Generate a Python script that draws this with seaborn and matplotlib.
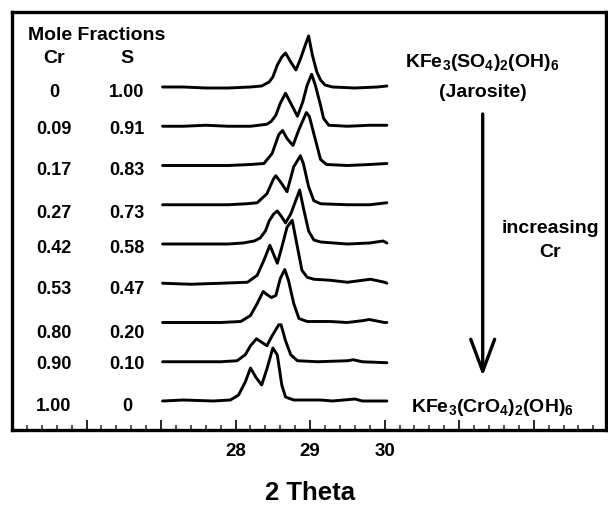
import matplotlib
matplotlib.use("Agg")
import matplotlib.pyplot as plt
from matplotlib.ticker import MultipleLocator, FixedLocator, FixedFormatter
import numpy as np
import seaborn as sns

# ---------------- data ----------------
cr_fraction = ["0", "0.09", "0.17", "0.27", "0.42", "0.53", "0.80", "0.90", "1.00"]
s_fraction = ["1.00", "0.91", "0.83", "0.73", "0.58", "0.47", "0.20", "0.10", "0"]

tt_cr000 = [27.02, 27.3, 27.6, 27.9, 28.2, 28.35, 28.45, 28.5, 28.56, 28.62, 28.67, 28.74, 28.81,
            28.87, 28.94, 28.98, 29.03, 29.09, 29.14, 29.2, 29.3, 29.6, 29.9, 30.03]
in_cr000 = [0, 0, -1, -1, 0, 1, 5, 10, 22, 30, 34, 25, 17, 28, 43, 51, 32, 15, 7, 2, 0, -1, 0, 1]

tt_cr009 = [27.02, 27.3, 27.6, 27.9, 28.2, 28.42, 28.48, 28.54, 28.6, 28.67, 28.74, 28.83, 28.9,
            28.96, 29.02, 29.07, 29.14, 29.18, 29.25, 29.5, 29.8, 30.03]
in_cr009 = [0, 0, 1, 0, 0, 2, 5, 11, 23, 33, 23, 10, 24, 41, 52, 41, 21, 8, 1, 0, 1, 1]

tt_cr017 = [27.02, 27.3, 27.6, 27.9, 28.2, 28.38, 28.49, 28.58, 28.63, 28.69, 28.77, 28.85, 28.95,
            28.99, 29.07, 29.14, 29.22, 29.5, 29.8, 30.03]
in_cr017 = [0, 0, 0, 0, 1, 2, 12, 31, 35, 27, 20, 36, 53, 49, 26, 6, 1, 0, 1, 2]

tt_cr027 = [27.02, 27.3, 27.6, 27.9, 28.15, 28.29, 28.42, 28.51, 28.54, 28.62, 28.69, 28.78, 28.87,
            28.91, 28.98, 29.05, 29.14, 29.5, 29.8, 30.03]
in_cr027 = [0, 0, 0, 0, 1, 2, 11, 26, 29, 21, 13, 38, 49, 41, 18, 4, 1, 0, 0, 2]

tt_cr042 = [27.02, 27.3, 27.6, 27.9, 28.1, 28.25, 28.33, 28.4, 28.45, 28.51, 28.56, 28.62, 28.67,
            28.74, 28.8, 28.86, 28.91, 28.98, 29.05, 29.14, 29.5, 29.8, 29.98, 30.03]
in_cr042 = [0, 0, 0, 0, 1, 3, 6, 13, 23, 30, 33, 27, 21, 30, 42, 54, 36, 13, 4, 2, 0, 1, 3, 1]

tt_cr053 = [27.02, 27.4, 27.8, 28.16, 28.29, 28.38, 28.46, 28.51, 28.56, 28.62, 28.69, 28.76, 28.83,
            28.89, 28.96, 29.05, 29.27, 29.5, 29.81, 30.0, 30.03]
in_cr053 = [0, -1, 0, 1, 8, 23, 38, 29, 20, 36, 56, 63, 36, 13, 6, 4, 3, 1, 4, 1, 0]

tt_cr080 = [27.02, 27.4, 27.8, 28.07, 28.2, 28.29, 28.37, 28.42, 28.48, 28.54, 28.6, 28.66, 28.71,
            28.78, 28.85, 28.96, 29.27, 29.5, 29.72, 29.79, 30.0, 30.03]
in_cr080 = [0, 0, 0, 1, 7, 19, 31, 28, 25, 27, 44, 53, 42, 19, 4, 1, 1, 0, 2, 3, 0, 0]

tt_cr090 = [27.02, 27.4, 27.8, 28.02, 28.13, 28.2, 28.28, 28.36, 28.42, 28.49, 28.58, 28.61, 28.67,
            28.74, 28.83, 29.1, 29.5, 29.58, 29.7, 30.03]
in_cr090 = [0, 0, 0, 1, 7, 16, 23, 19, 16, 26, 37, 37, 21, 7, 1, 0, 1, 2, 0, -1]

tt_cr100 = [27.02, 27.3, 27.7, 27.93, 28.04, 28.13, 28.2, 28.27, 28.35, 28.42, 28.5, 28.56, 28.62,
            28.67, 28.78, 28.95, 29.14, 29.3, 29.6, 29.7, 30.03]
in_cr100 = [0, 1, 0, 1, 6, 19, 33, 24, 16, 32, 53, 46, 16, 4, 1, 1, 1, 0, 2, 0, 0]

patterns_tt = [tt_cr000, tt_cr009, tt_cr017, tt_cr027, tt_cr042, tt_cr053, tt_cr080, tt_cr090, tt_cr100]
patterns_in = [in_cr000, in_cr009, in_cr017, in_cr027, in_cr042, in_cr053, in_cr080, in_cr090, in_cr100]

major_ticks = [25, 26, 27, 28, 29, 30, 31, 32]
labelled_ticks = [28, 29, 30]
x_label = "2 Theta"
top_formula = r"KFe$_3$(SO$_4$)$_2$(OH)$_6$"
top_name = "(Jarosite)"
bottom_formula = r"KFe$_3$(CrO$_4$)$_2$(OH)$_6$"

# ---------------- style ----------------
sns.set_theme(style="white")
plt.rcParams["font.family"] = ["Liberation Sans", "DejaVu Sans"]
plt.rcParams["font.weight"] = "bold"
plt.rcParams["xtick.labelsize"] = 13.5
plt.rcParams["mathtext.fontset"] = "custom"
plt.rcParams["mathtext.rm"] = "Liberation Sans:bold"
plt.rcParams["mathtext.it"] = "Liberation Sans:bold"
plt.rcParams["mathtext.bf"] = "Liberation Sans:bold"
plt.rcParams["mathtext.default"] = "rm"

W, H = 608, 506
fig = plt.figure(figsize=(W / 100, H / 100), dpi=100)
ax_left, ax_right, ax_top, ax_bottom = 12, 606, 12.7, 431
ax = fig.add_axes([ax_left / W, 1 - ax_bottom / H, (ax_right - ax_left) / W, (ax_bottom - ax_top) / H])
ax.set_facecolor("white")
ax.set_xlim(25.0, 32.97)
ax.set_ylim(0, ax_bottom - ax_top)

first_base = ax_bottom - 88
spacing = 39.25
for i, (tt, inten) in enumerate(zip(patterns_tt, patterns_in)):
    y = np.asarray(inten, dtype=float) + first_base - i * spacing
    sns.lineplot(x=tt, y=y, ax=ax, color="black", linewidth=2.1, sort=False, estimator=None)
    ax.lines[-1].set_solid_joinstyle("round")

for side in ["left", "right", "top", "bottom"]:
    ax.spines[side].set_visible(True)
    ax.spines[side].set_linewidth(2.4)
    ax.spines[side].set_color("black")

ax.xaxis.set_major_locator(FixedLocator(major_ticks))
ax.xaxis.set_major_formatter(FixedFormatter([str(t) if t in labelled_ticks else "" for t in major_ticks]))
ax.xaxis.set_minor_locator(MultipleLocator(0.2))
ax.tick_params(axis="x", which="major", direction="in", length=7.5, width=1.2, pad=9,
               labelsize=13.5, bottom=True, top=False, colors="black")
ax.tick_params(axis="x", which="minor", direction="in", length=3.4, width=1.1, bottom=True, top=False)
ax.set_yticks([])

ax.set_xlabel(x_label, fontsize=18.5, fontweight="bold", color="black")
ax.xaxis.set_label_coords((310 - ax_left) / (ax_right - ax_left), (ax_bottom - 493) / (ax_bottom - ax_top))
ax.xaxis.label.set_verticalalignment("center")


def ftext(x, y, s, **kw):
    fig.text(x / W, 1 - y / H, s, color="black", fontweight="bold", **kw)


ftext(96.5, 40, "Mole Fractions", fontsize=14, ha="center", va="baseline")
ftext(54, 63.3, "Cr", fontsize=14, ha="center", va="baseline")
ftext(127, 63.3, "S", fontsize=14, ha="center", va="baseline")

row_baseline_px = [97, 134, 175, 218, 253, 294, 338, 369, 411]
for yb, cr, s in zip(row_baseline_px, cr_fraction, s_fraction):
    ftext(54, yb, cr, fontsize=13, ha="center", va="baseline")
    ftext(127, yb, s, fontsize=13, ha="center", va="baseline")

ftext(482, 67, top_formula, fontsize=14, ha="center", va="baseline")
ftext(483, 97, top_name, fontsize=14, ha="center", va="baseline")
ftext(550, 233, "increasing", fontsize=14, ha="center", va="baseline")
ftext(550, 257, "Cr", fontsize=14, ha="center", va="baseline")
ftext(493, 412, bottom_formula, fontsize=14, ha="center", va="baseline")

ax.annotate("", xy=(482.7, H - 377), xycoords="figure pixels",
            xytext=(482.7, H - 115), textcoords="figure pixels",
            arrowprops=dict(arrowstyle="->,head_length=1.15,head_width=0.43", lw=2.4,
                            color="black", mutation_scale=20, shrinkA=0, shrinkB=0))

fig.canvas.draw()
for tick in ax.xaxis.get_major_ticks():
    tick.label1.set_fontsize(13.5)
    tick.label1.set_fontweight("bold")

fig.savefig("out.png", dpi=100, facecolor="white")
